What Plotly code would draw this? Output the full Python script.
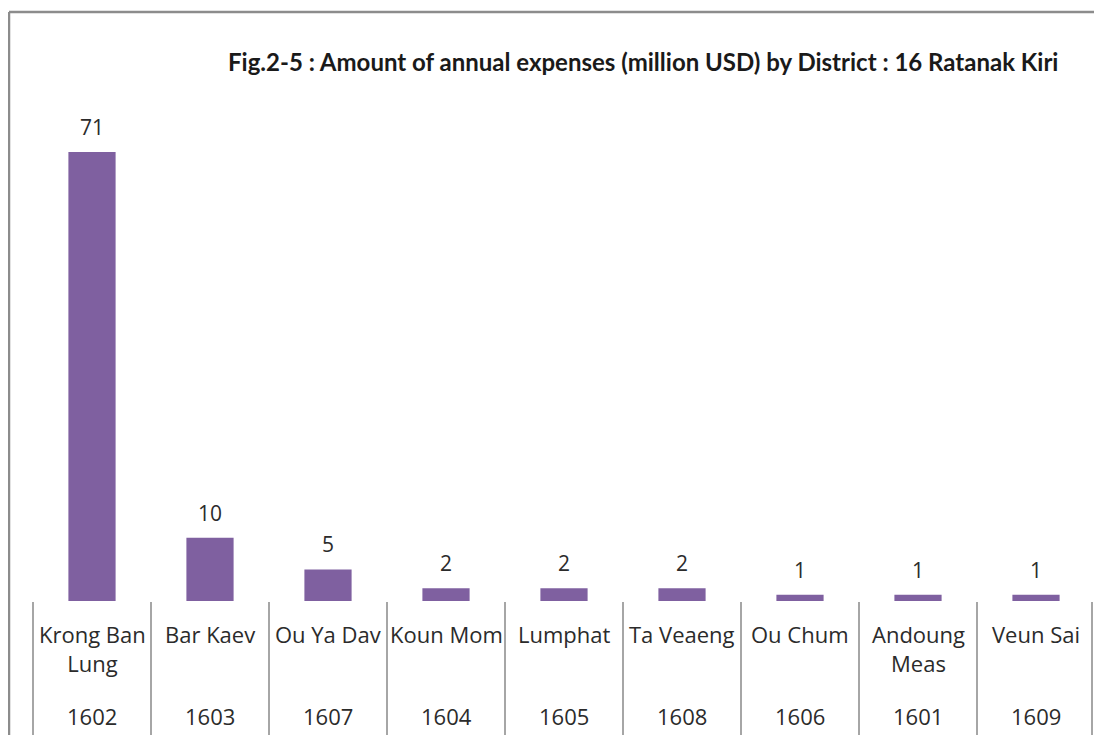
import plotly.graph_objects as go

districts = ["Krong Ban<br>Lung", "Bar Kaev", "Ou Ya Dav", "Koun Mom", "Lumphat",
             "Ta Veaeng", "Ou Chum", "Andoung<br>Meas", "Veun Sai"]
codes = ["1602", "1603", "1607", "1604", "1605", "1608", "1606", "1601", "1609"]
expenses = [71, 10, 5, 2, 2, 2, 1, 1, 1]
title = "Fig.2-5 : Amount of annual expenses (million USD) by District : 16 Ratanak Kiri"

LABEL_FONT = "Open Sans"
TITLE_FONT = "Lato"
TXT = "#2b2b2b"

OFF = 8  # page body margin offset
W, H = 1102 - OFF, 735 - OFF
ML, MT = 33 - OFF, 95 - OFF
MB = H - (601 - OFF)          # baseline at screen y=601
MR = 7
PW = W - ML - MR
PH = H - MT - MB

n = len(districts)
x = list(range(n))

fig = go.Figure()
fig.add_trace(go.Bar(
    x=x, y=expenses, width=0.4,
    marker=dict(color="#7F60A0", line=dict(width=0)),
    hoverinfo="skip",
))

annotations = []
shapes = []
for i, (name, code, v) in enumerate(zip(districts, codes, expenses)):
    annotations.append(dict(x=i, y=v, xref="x", yref="y", text=str(v),
                            showarrow=False, yanchor="middle", yshift=25,
                            font=dict(family=LABEL_FONT, size=21, color=TXT)))
    annotations.append(dict(x=i, y=0, xref="x", yref="paper", text=name,
                            showarrow=False, yanchor="top", yshift=-16,
                            font=dict(family=LABEL_FONT, size=22, color=TXT),
                            align="center"))
    annotations.append(dict(x=i, y=0, xref="x", yref="paper", text=code,
                            showarrow=False, yanchor="middle", yshift=-115,
                            font=dict(family=LABEL_FONT, size=22, color=TXT)))
xmax = (1092 - OFF - ML) / PW
for i in range(n + 1):
    px = min(i / n, xmax)
    shapes.append(dict(type="line", xref="paper", yref="paper",
                       x0=px, x1=px, y0=-1 / PH, y1=-135 / PH,
                       line=dict(color="#A6A6A6", width=2)))

tx = (643 - OFF - ML) / PW
ty = (H - MB - (62 - OFF)) / PH
annotations.append(dict(x=tx, y=ty, xref="paper", yref="paper",
                        text="<b>" + title + "</b>", showarrow=False,
                        xanchor="center", yanchor="middle",
                        font=dict(family=TITLE_FONT, size=24, color="#1a1a1a")))

# outer frame (top and left edges)
fy = (H - MB - (12 - OFF)) / PH
fx = (1 - ML) / PW
shapes.append(dict(type="line", xref="paper", yref="paper",
                   x0=fx, x1=1.2, y0=fy, y1=fy,
                   line=dict(color="#8C8C8C", width=2.5)))
shapes.append(dict(type="line", xref="paper", yref="paper",
                   x0=fx, x1=fx, y0=fy, y1=-1,
                   line=dict(color="#8C8C8C", width=2.5)))

fig.update_layout(
    width=W, height=H,
    margin=dict(l=ML, r=MR, t=MT, b=MB),
    plot_bgcolor="white", paper_bgcolor="white",
    showlegend=False,
    xaxis=dict(range=[-0.5, n - 0.5], showticklabels=False,
               showgrid=False, zeroline=False, showline=False, ticks=""),
    yaxis=dict(range=[0, 80], visible=False, showgrid=False, zeroline=False),
    annotations=annotations, shapes=shapes,
)

fig.write_html("out.html")
